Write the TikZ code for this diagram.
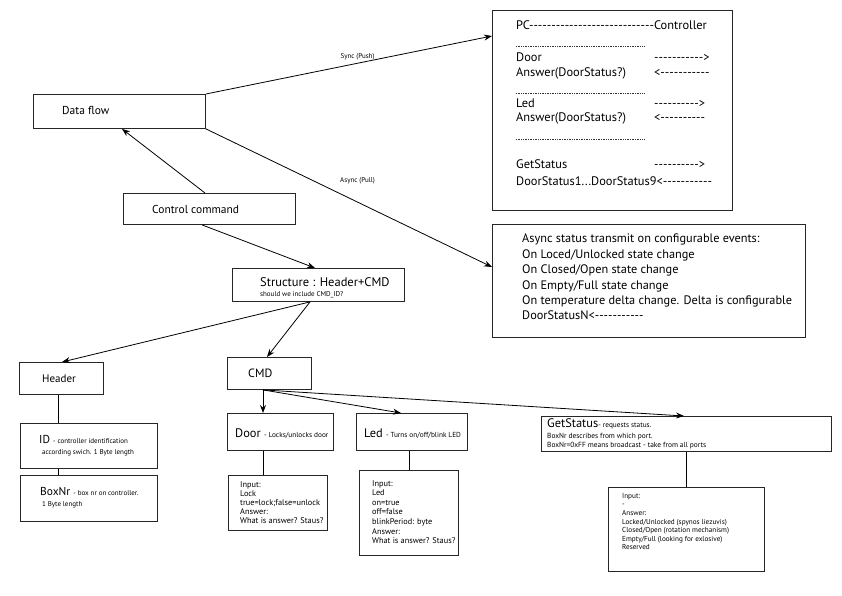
\documentclass[tikz,border=0pt]{standalone}
\usepackage{fontspec}
\setmainfont{PT Sans}[Ligatures=TeXOff]
\usetikzlibrary{arrows.meta}
\newcommand\lgfont{\fontsize{11.5}{13}\selectfont}
\newcommand\pcfont{\fontsize{12.4}{14}\selectfont}
\newcommand\smfont{\fontsize{7}{8.5}\selectfont}
\newcommand\lbfont{\fontsize{7.3}{9}\selectfont}
\begin{document}
\begin{tikzpicture}[x=1pt,y=-1pt,
  box/.style={draw=black!85, line width=0.9pt, anchor=north west, inner sep=0pt},
  txt/.style={anchor=base west, inner sep=0pt, font=\lgfont},
  ptxt/.style={anchor=base west, inner sep=0pt, font=\pcfont},
  stxt/.style={anchor=base west, inner sep=0pt, font=\smfont, align=left},
  arr/.style={draw=black, line width=0.8pt, -{Stealth[length=8pt,width=6pt]}},
  ln/.style={draw=black, line width=0.8pt},
  dots/.style={draw=black!80, line width=0.7pt, dash pattern=on 0.5pt off 1.2pt}]
\useasboundingbox (0,0) rectangle (842,596);
\fill[white] (0,0) rectangle (842,596);

% boxes
\node[box, minimum width=172pt, minimum height=34pt] (df) at (33,94) {};
\node[box, minimum width=172pt, minimum height=31pt] (cc) at (123,193) {};
\node[box, minimum width=172pt, minimum height=33pt] (st) at (232,268) {};
\node[box, minimum width=84pt, minimum height=32pt] (hd) at (19,362) {};
\node[box, minimum width=84pt, minimum height=32pt] (cmd) at (227,357) {};
\node[box, minimum width=137pt, minimum height=45pt] (id) at (20,423) {};
\node[box, minimum width=137pt, minimum height=46pt] (bx) at (20,475) {};
\node[box, minimum width=106pt, minimum height=37pt] (door) at (227,413) {};
\node[box, minimum width=99pt, minimum height=55pt] (din) at (228,475) {};
\node[box, minimum width=99pt, minimum height=85pt] (lin) at (359,470) {};
\node[box, minimum width=111pt, minimum height=37pt] (led) at (356,413) {};
\node[box, minimum width=290pt, minimum height=35pt] (gs) at (541,416) {};
\node[box, minimum width=156pt, minimum height=84pt] (gin) at (608,487) {};
\node[box, minimum width=240pt, minimum height=200pt] (pc) at (492,10) {};
\node[box, minimum width=313pt, minimum height=113pt] (as) at (492,224) {};

% texts
\node[txt] (tdf) at (62,115) {Data flow};
\node[txt] (tcc) at (152,213) {Control command};
\node[txt, font=\fontsize{12.5}{14}\selectfont] (tst) at (260,286) {Structure : Header+CMD};
\node[stxt] (tst2) at (260,296) {should we include CMD\_ID?};
\node[txt, anchor=base, font=\fontsize{11}{13}\selectfont] (thd) at (59,382) {Header};
\node[txt, font=\fontsize{12}{14}\selectfont] (tcmd) at (248,377) {CMD};
\node[txt] (tid) at (39,443) {ID \smfont - controller identification};
\node[stxt] (tid2) at (42,454) {according swich. 1 Byte length};
\node[txt] (tbx) at (40,495) {BoxNr \smfont - box nr on controller.};
\node[stxt] (tbx2) at (42,506) {1 Byte length};
\node[txt, font=\pcfont] (tdoor) at (235,437) {Door \lbfont - Locks/unlocks door};
\node[txt, font=\pcfont] (tled) at (364,437) {Led \lbfont - Turns on/off/blink LED};
\node[txt, font=\pcfont] (tgs) at (547,427) {GetStatus\lbfont - requests status.};
\node[stxt, font=\fontsize{7.4}{9}\selectfont] (tgs2) at (547,438) {BoxNr describes from which port.};
\node[stxt, font=\fontsize{7.4}{9}\selectfont] (tgs3) at (547,447) {BoxNr=0xFF means broadcast - take from all ports};
\node[stxt, anchor=north west, font=\fontsize{8.3}{9.2}\selectfont] (tdin) at (240,481) {Input:\\Lock\\true=lock;false=unlock\\Answer:\\What is answer? Staus?};
\node[stxt, anchor=north west, font=\fontsize{8.3}{9.6}\selectfont] (tlin) at (372,480) {Input:\\Led\\on=true\\off=false\\blinkPeriod: byte\\Answer:\\What is answer? Staus?};
\node[stxt, anchor=north west, font=\fontsize{7.2}{8.6}\selectfont] (tgin) at (622,493) {Input:\\-\\Answer:\\Locked/Unlocked (spynos liezuvis)\\Closed/Open (rotation mechanism)\\Empty/Full (looking for exlosive)\\Reserved};

% PC box content
\node[ptxt] (p1) at (516,30) {PC----------------------------Controller};
\draw[dots] (516,46) -- (644,46);
\node[ptxt] (p2) at (516,62) {Door};
\node[ptxt] (p2a) at (654,62) {----------->};
\node[ptxt] (p3) at (516,77) {Answer(DoorStatus?)};
\node[ptxt] (p3a) at (654,77) {<-----------};
\draw[dots] (516,93) -- (644,93);
\node[ptxt] (p4) at (516,108) {Led};
\node[ptxt] (p4a) at (654,108) {---------->};
\node[ptxt] (p5) at (516,122) {Answer(DoorStatus?)};
\node[ptxt] (p5a) at (654,122) {<----------};
\draw[dots] (516,139) -- (644,139);
\node[ptxt] (p6) at (516,168) {GetStatus};
\node[ptxt] (p6a) at (654,168) {---------->};
\node[ptxt] (p7) at (516,185) {DoorStatus1...DoorStatus9<-----------};

% async box content
\node[txt, anchor=north west, align=left, font=\fontsize{12.3}{15.4}\selectfont] (ast) at (522,234) {Async status transmit on configurable events:\\On Loced/Unlocked state change\\On Closed/Open state change\\On Empty/Full state change\\On temperature delta change. Delta is configurable\\DoorStatusN<-----------};

% connectors
\draw[arr] (df.north east) -- node[pos=0.53, above=3pt, font=\smfont, inner sep=0pt] (lsync) {Sync (Push)} ([yshift=-26pt]pc.north west);
\draw[arr] (df.south east) -- node[pos=0.53, above=18pt, font=\smfont, inner sep=0pt] (lasync) {Async (Pull)} ([yshift=-43pt]as.north west);
\draw[arr] ([xshift=82pt]cc.north west) -- ([xshift=89pt]df.south west);
\draw[arr] ([xshift=79pt]cc.south west) -- ([xshift=83pt]st.north west);
\draw[arr] ([xshift=78pt]st.south west) -- ([xshift=43pt]hd.north west);
\draw[arr] ([xshift=78pt]st.south west) -- ([xshift=40pt]cmd.north west);
\draw[arr] ([xshift=36pt]cmd.south west) -- ([xshift=36pt]door.north west);
\draw[arr] ([xshift=36pt]cmd.south west) -- ([xshift=45pt]led.north west);
\draw[arr] ([xshift=36pt]cmd.south west) -- ([xshift=143pt]gs.north west);
\draw[ln] ([xshift=39pt]hd.south west) -- ([xshift=38pt]id.north west);
\draw[ln] ([xshift=38pt]id.south west) -- ([xshift=38pt]bx.north west);
\draw[ln] ([xshift=36pt]door.south west) -- ([xshift=35pt]din.north west);
\draw[ln] ([xshift=53pt]led.south west) -- ([xshift=50pt]lin.north west);
\draw[ln] ([xshift=145pt]gs.south west) -- ([xshift=78pt]gin.north west);
\end{tikzpicture}
\end{document}
